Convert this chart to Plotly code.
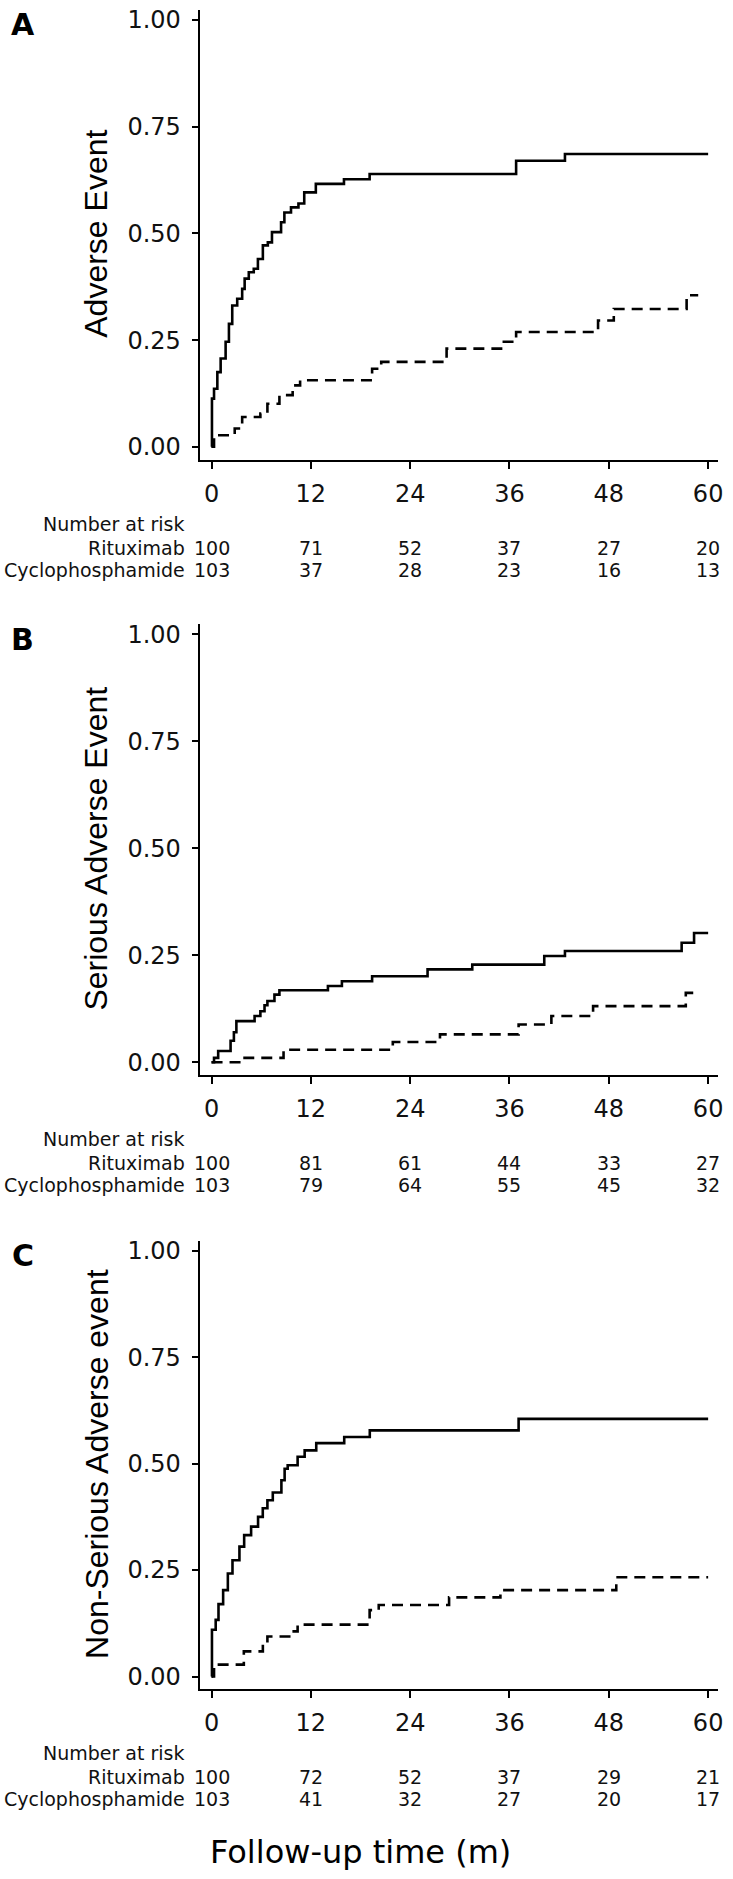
import plotly.graph_objects as go

W, H = 733, 1879

# ---------------- data ----------------
months = [0, 12, 24, 36, 48, 60]
y_ticks = [0, 0.25, 0.5, 0.75, 1.0]
y_tick_text = ["0.00", "0.25", "0.50", "0.75", "1.00"]
groups = ["Rituximab", "Cyclophosphamide"]
panel_letters = ["A", "B", "C"]
y_titles = ["Adverse Event", "Serious Adverse Event", "Non-Serious Adverse event"]
x_title = "Follow-up time (m)"
risk_title = "Number at risk"

# Panel A: Adverse Event
a_rit_t = [0, 0.05, 0.3, 0.7, 1.1, 1.7, 2.1, 2.5, 3.1, 3.7, 4.0, 4.5, 5.1, 5.6, 6.2, 6.8, 7.3,
           8.4, 8.8, 9.6, 10.5, 11.2, 12.6, 16.0, 19.1, 36.8, 42.7, 60]
a_rit_v = [0, 0.113, 0.136, 0.175, 0.207, 0.246, 0.288, 0.331, 0.347, 0.370, 0.394, 0.409,
           0.417, 0.440, 0.472, 0.479, 0.503, 0.526, 0.549, 0.561, 0.570, 0.596, 0.616,
           0.627, 0.639, 0.670, 0.686, 0.686]
a_cyc_t = [0, 0.3, 2.8, 3.7, 5.9, 6.75, 8.2, 9.8, 10.7, 19.4, 20.5, 28.4, 35.15, 36.8,
           46.7, 48.6, 57.4, 58.8]
a_cyc_v = [0, 0.027, 0.043, 0.070, 0.078, 0.101, 0.121, 0.144, 0.156, 0.183, 0.199, 0.230,
           0.246, 0.269, 0.296, 0.323, 0.355, 0.355]

# Panel B: Serious Adverse Event
b_rit_t = [0, 0.3, 0.8, 2.3, 2.7, 3.0, 5.2, 5.9, 6.4, 6.75, 7.6, 8.2, 14.06, 15.75, 19.4,
           26.1, 31.5, 40.2, 42.7, 56.8, 58.3, 60]
b_rit_v = [0, 0.010, 0.026, 0.050, 0.070, 0.096, 0.108, 0.119, 0.133, 0.143, 0.158, 0.168,
           0.178, 0.189, 0.201, 0.217, 0.228, 0.248, 0.260, 0.279, 0.302, 0.302]
b_cyc_t = [0, 3.8, 8.7, 21.9, 27.6, 37.1, 41.06, 46.1, 57.3, 58.8]
b_cyc_v = [0, 0.010, 0.029, 0.047, 0.065, 0.088, 0.108, 0.131, 0.162, 0.162]

# Panel C: Non-Serious Adverse event
c_rit_t = [0, 0.05, 0.5, 0.84, 1.4, 1.97, 2.53, 3.37, 3.94, 4.78, 5.62, 6.19, 6.75, 7.4,
           8.44, 8.83, 9.2, 10.4, 11.25, 12.65, 16.03, 19.12, 37.1, 60]
c_rit_v = [0, 0.110, 0.133, 0.170, 0.203, 0.242, 0.273, 0.305, 0.332, 0.352, 0.375, 0.395,
           0.414, 0.432, 0.461, 0.488, 0.496, 0.516, 0.531, 0.548, 0.5625, 0.578, 0.605, 0.605]
c_cyc_t = [0, 0.3, 3.9, 6.2, 6.75, 9.6, 10.4, 19.1, 20.2, 28.7, 34.9, 48.9, 60]
c_cyc_v = [0, 0.028, 0.059, 0.075, 0.094, 0.106, 0.122, 0.156, 0.168, 0.186, 0.203, 0.233, 0.233]

# Numbers at risk
a_risk_rit = [100, 71, 52, 37, 27, 20]
a_risk_cyc = [103, 37, 28, 23, 16, 13]
b_risk_rit = [100, 81, 61, 44, 33, 27]
b_risk_cyc = [103, 79, 64, 55, 45, 32]
c_risk_rit = [100, 72, 52, 37, 29, 21]
c_risk_cyc = [103, 41, 32, 27, 20, 17]

curves = [
    ((a_rit_t, a_rit_v), (a_cyc_t, a_cyc_v)),
    ((b_rit_t, b_rit_v), (b_cyc_t, b_cyc_v)),
    ((c_rit_t, c_rit_v), (c_cyc_t, c_cyc_v)),
]
risks = [(a_risk_rit, a_risk_cyc), (b_risk_rit, b_risk_cyc), (c_risk_rit, c_risk_cyc)]

# ---------------- layout geometry (pixels) ----------------
panel_px = [(16, 444), (632, 1061), (1250, 1677)]   # pixel y of 1.00 and of 0.00
X_LEFT, X_RIGHT = 201, 723
X_RANGE = [-1.44, 61.2]
Y_RANGE = [-0.0304, 1.0234]

SANS = "DejaVu Sans"
ARIAL = "Liberation Sans, Arial"
INK = "#111111"


def py(p):
    return 1 - p / H


def px(p):
    return p / W


fig = go.Figure()
layout = dict(
    width=W, height=H, margin=dict(l=0, r=0, t=0, b=0),
    paper_bgcolor="white", plot_bgcolor="white", showlegend=False,
)
annotations = []

for i, ((p1, p0), (rit, cyc), (r_rit, r_cyc)) in enumerate(zip(panel_px, curves, risks)):
    s = p0 - p1
    top = p1 - (Y_RANGE[1] - 1) * s
    bot = p0 - Y_RANGE[0] * s
    sfx = "" if i == 0 else str(i + 1)
    xa, ya = "x" + sfx, "y" + sfx

    fig.add_trace(go.Scatter(x=rit[0], y=rit[1], mode="lines", line_shape="hv",
                             line=dict(color="black", width=2.6),
                             name=groups[0], xaxis=xa, yaxis=ya))
    fig.add_trace(go.Scatter(x=cyc[0], y=cyc[1], mode="lines", line_shape="hv",
                             line=dict(color="black", width=2.6, dash="11px,7px"),
                             name=groups[1], xaxis=xa, yaxis=ya))

    layout["xaxis" + sfx] = dict(
        domain=[px(X_LEFT), px(X_RIGHT)], anchor=ya, range=X_RANGE,
        tickvals=months, ticktext=[str(m) for m in months],
        showgrid=False, zeroline=False, showline=True, linecolor="black", linewidth=2,
        ticks="outside", ticklen=7, tickwidth=2, tickcolor="black",
        tickfont=dict(family=SANS, size=24, color=INK), ticklabelstandoff=4,
    )
    layout["yaxis" + sfx] = dict(
        domain=[py(bot), py(top)], anchor=xa, range=Y_RANGE,
        tickvals=y_ticks, ticktext=y_tick_text,
        showgrid=False, zeroline=False, showline=True, linecolor="black", linewidth=2,
        ticks="outside", ticklen=6, tickwidth=2, tickcolor="black",
        tickfont=dict(family=SANS, size=24, color=INK), ticklabelstandoff=6,
    )

    # panel letter
    annotations.append(dict(text="<b>%s</b>" % panel_letters[i], x=px(23), y=py(p1 + 5),
                            xref="paper", yref="paper", showarrow=False,
                            xanchor="center", yanchor="middle",
                            font=dict(family=SANS, size=30, color="black")))
    # y title
    annotations.append(dict(text=y_titles[i], x=px(97), y=py((p1 + p0) / 2),
                            xref="paper", yref="paper", showarrow=False, textangle=-90,
                            xanchor="center", yanchor="middle",
                            font=dict(family=ARIAL, size=32, color="black")))
    # risk table
    row_y = [bot + 64, bot + 88, bot + 110]
    annotations.append(dict(text=risk_title, x=px(188), y=py(row_y[0]),
                            xref="paper", yref="paper", showarrow=False,
                            xanchor="right", yanchor="middle",
                            font=dict(family=SANS, size=19, color=INK)))
    for g, vals, ry in zip(groups, (r_rit, r_cyc), row_y[1:]):
        annotations.append(dict(text=g, x=px(188), y=py(ry), xref="paper", yref="paper",
                                showarrow=False, xanchor="right", yanchor="middle",
                                font=dict(family=SANS, size=19, color=INK)))
        for m, n in zip(months, vals):
            annotations.append(dict(text=str(n), x=m, y=py(ry), xref=xa, yref="paper",
                                    showarrow=False, xanchor="center", yanchor="middle",
                                    font=dict(family=SANS, size=19, color=INK)))

annotations.append(dict(text=x_title, x=px(363), y=py(1853), xref="paper", yref="paper",
                        showarrow=False, xanchor="center", yanchor="middle",
                        font=dict(family=SANS, size=32, color="black")))

layout["annotations"] = annotations
fig.update_layout(**layout)
fig.write_html("out.html",
               config={"displayModeBar": False, "staticPlot": True},
               post_script="document.body.style.margin='0px';"
                           "document.body.style.overflow='hidden';")
